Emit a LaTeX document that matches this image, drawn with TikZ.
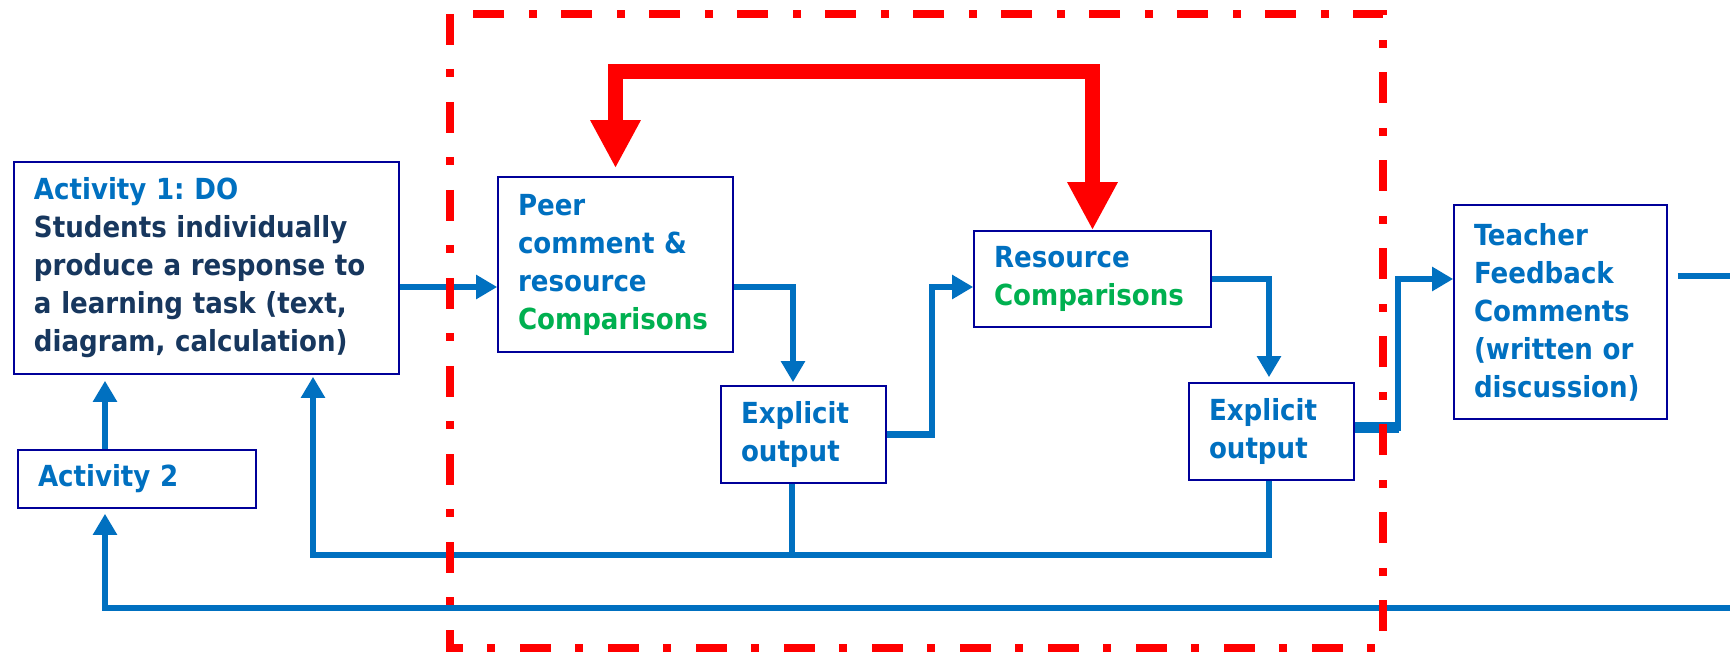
\documentclass[tikz,border=0pt]{standalone}
\usepackage{fontspec}
\newfontfamily\dvc{DejaVu Sans Condensed}[BoldFont={DejaVu Sans Condensed Bold}]
\usetikzlibrary{arrows.meta}
\definecolor{flowblue}{HTML}{0070C0}
\definecolor{boxnavy}{HTML}{000099}
\definecolor{textnavy}{HTML}{17375E}
\definecolor{cmpgreen}{HTML}{00B050}
\definecolor{loopred}{HTML}{FF0000}
\newcommand{\boxfont}{\dvc\bfseries\fontsize{29}{38}\selectfont\frenchspacing}
\begin{document}
\begin{tikzpicture}[x=1pt,y=-1pt,
  stagebox/.style 2 args={draw=boxnavy, line width=1.6pt, fill=white, rectangle,
    inner xsep=20pt, inner ysep=0pt, align=left, text=flowblue, font=\boxfont,
    text width=#1, minimum height=#2},
  flow/.style={draw=flowblue, line width=6.5pt},
  bluetip/.style={-{Triangle[length=21pt,width=23pt]}},
  redloop/.style={draw=loopred, line width=15pt,
    {Triangle[length=48pt,width=47pt]}-{Triangle[length=48pt,width=47pt]}},
  groupframe/.style={draw=loopred, line width=7.5pt,
    dash pattern=on 31pt off 24pt on 8pt off 25pt}]
\useasboundingbox (0,0) rectangle (1730,652);
\fill[white] (0,0) rectangle (1730,652);

% stages
\node[stagebox={345pt}{212pt}, text=textnavy] (a1) at (206.5,268)
  {\textcolor{flowblue}{Activity 1: DO}\\ Students individually\\ produce a response to\\ a learning task (text,\\ diagram, calculation)};
\node[stagebox={198pt}{58pt}] (a2) at (137,479) {Activity 2};
\node[stagebox={195pt}{175pt}] (peer) at (615.5,264.5)
  {Peer\\ comment \&\\ resource\\ \textcolor{cmpgreen}{Comparisons}};
\node[stagebox={125pt}{97pt}] (e1) at (803.5,434.5) {Explicit\\ output};
\node[stagebox={197pt}{96pt}] (res) at (1092.5,279)
  {Resource\\ \textcolor{cmpgreen}{Comparisons}};
\node[stagebox={125pt}{97pt}] (e2) at (1271.5,431.5) {Explicit\\ output};
\node[stagebox={173pt}{214pt}] (teacher) at (1560.5,312)
  {Teacher\\ Feedback\\ Comments\\ (written or\\ discussion)};

% junction points of the connectors
\coordinate (r1) at (0,287);
\coordinate (j1) at (932,287);
\coordinate (j2) at (1398,279);
\coordinate (outR) at (1730,276);
\coordinate (jA) at (313,555);
\coordinate (jB) at (105,608);
\coordinate (outB) at (1730,608);

% forward flow
\draw[flow, bluetip] (a1.east |- r1) -- (peer.west |- r1);
\draw[flow, bluetip, shorten >=3pt] (peer.east |- r1) -| ([xshift=-10.5pt]e1.north);
\draw[flow, bluetip] (e1.east) -| (j1) -- (res.west |- j1);
\draw[flow, bluetip, shorten >=5pt] (res.east) -| ([xshift=-2.5pt]e2.north);
\draw[flow, bluetip] ([yshift=4pt]e2.east) -| (j2) -- (teacher.west |- j2);
\draw[draw=flowblue, line width=11pt] ([yshift=4pt]e2.east) -- ++(44,0);
\draw[flow] ([xshift=10pt]teacher.east |- outR) -- (outR);

% feedback loops
\draw[flow, bluetip, shorten >=2pt] ([xshift=-2.5pt]e2.south) |- (jA) -- (jA |- a1.south);
\draw[flow] ([xshift=-11.5pt]e1.south) -- ([xshift=-11.5pt]e1.south |- jA);
\draw[flow, bluetip, shorten >=5pt] (outB) -- (jB) -- (jB |- a2.south);
\draw[flow, bluetip, shorten >=6pt] (jB |- a2.north) -- (jB |- a1.south);

% peer/resource exchange and the comparison group
\coordinate (redtop) at (618,72);
\draw[redloop] ([yshift=8pt]peer.north) |- (redtop) -| (res.north);
\draw[groupframe] (450,14) rectangle (1383,648);
\end{tikzpicture}
\end{document}
